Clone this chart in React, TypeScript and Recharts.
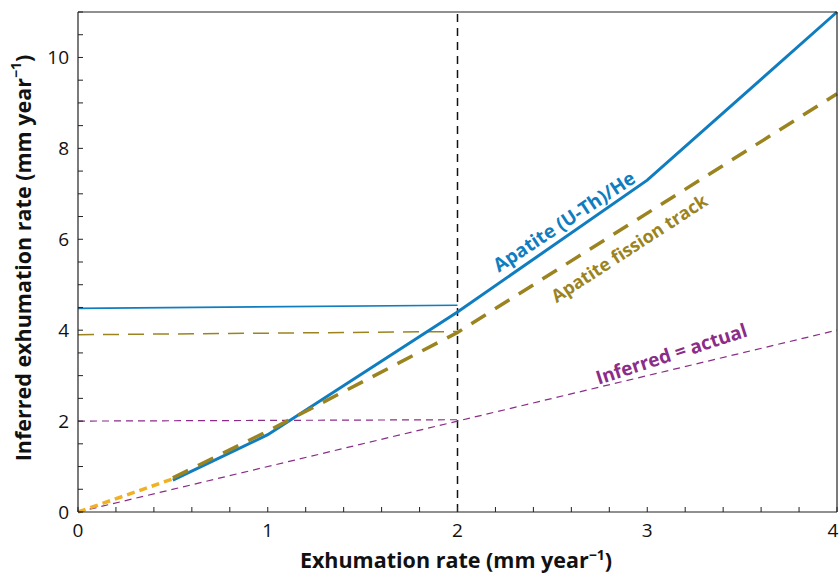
import React from 'react';
import { LineChart, Line, XAxis, YAxis, ReferenceLine, ReferenceDot } from 'recharts';

// Apatite (U-Th)/He — thick solid blue
const apheX = [0.5, 1, 2, 3, 4];
const apheY = [0.7, 1.7, 4.4, 7.3, 11];
// Apatite fission track — thick dashed olive
const aftX = [0.5, 1, 2, 4];
const aftY = [0.75, 1.78, 3.95, 9.2];
// low-rate extension (yellow dashes)
const lowX = [0, 0.5];
const lowY = [0, 0.73];
// thin horizontal guides up to x = 2
const flatX = [0, 2];
const apheFlatY = [4.48, 4.55];
const aftFlatY = [3.9, 3.97];
const actualFlatY = [2, 2.03];
// Inferred = actual
const actualX = [0, 2, 4];
const actualY = [0, 2, 4];

const xTicks = [0, 0.2, 0.4, 0.6, 0.8, 1, 1.2, 1.4, 1.6, 1.8, 2, 2.2, 2.4, 2.6, 2.8, 3, 3.2, 3.4, 3.6, 3.8, 4];
const yTicks = [0, 0.5, 1, 1.5, 2, 2.5, 3, 3.5, 4, 4.5, 5, 5.5, 6, 6.5, 7, 7.5, 8, 8.5, 9, 9.5, 10, 10.5, 11];
const xLabels = [0, 1, 2, 3, 4];
const yLabels = [0, 2, 4, 6, 8, 10];

const BLUE = '#0f7dbf';
const OLIVE = '#9b8420';
const YELLOW = '#f0b224';
const PURPLE = '#8a2c88';
const FONT = '"Open Sans", "Noto Sans", sans-serif';

const pts = (xs: number[], ys: number[]) => xs.map((x, i) => ({ x, y: ys[i] }));

const BottomTick = (p: any) => {
  const v = p.payload.value;
  const ay = p.y - 10;
  return (
    <g>
      <line x1={p.x} x2={p.x} y1={ay} y2={ay - 5} stroke="#222" strokeWidth={1} />
      {xLabels.includes(v) && (
        <text x={Math.min(p.x, 833)} y={ay + 25} textAnchor="middle" fontSize={19} fontFamily={FONT} fill="#111">
          {v}
        </text>
      )}
    </g>
  );
};

const TopTick = (p: any) => (
  <line x1={p.x} x2={p.x} y1={p.y} y2={p.y + 5} stroke="#222" strokeWidth={1} />
);

const LeftTick = (p: any) => {
  const v = p.payload.value;
  const ax = p.x + 10;
  return (
    <g>
      <line x1={ax} x2={ax + 5} y1={p.y} y2={p.y} stroke="#222" strokeWidth={1} />
      {yLabels.includes(v) && (
        <text x={ax - 9} y={p.y + 7} textAnchor="end" fontSize={19} fontFamily={FONT} fill="#111">
          {v}
        </text>
      )}
    </g>
  );
};

const RightTick = (p: any) => (
  <line x1={p.x} x2={p.x - 5} y1={p.y} y2={p.y} stroke="#222" strokeWidth={1} />
);

const tag = (text: string, color: string, angle: number, size: number) => (p: any) => (
  <text
    x={p.cx}
    y={p.cy}
    transform={`rotate(${-angle} ${p.cx} ${p.cy})`}
    textAnchor="middle"
    dominantBaseline="middle"
    fontSize={size}
    fontWeight={700}
    fontFamily={FONT}
    fill={color}
  >
    {text}
  </text>
);

export default function App() {
  return (
    <div style={{ position: 'absolute', left: 0, top: 0, background: '#fff' }}>
      <LineChart width={839} height={575} margin={{ top: 11, right: 1, bottom: 23, left: 28 }}>
        <XAxis
          dataKey="x"
          type="number"
          domain={[0, 4]}
          ticks={xTicks}
          interval={0}
          tickSize={0}
          tickMargin={10}
          tick={BottomTick}
          axisLine={{ stroke: '#222', strokeWidth: 1.2 }}
          height={40}
          allowDuplicatedCategory={false}
          label={{
            content: () => (
              <text x={456} y={568} textAnchor="middle" fontSize={21.5} fontWeight={700} fontFamily={FONT} fill="#111">
                Exhumation rate (mm year
                <tspan dy={-8} fontSize={14}>−1</tspan>
                <tspan dy={8}>)</tspan>
              </text>
            ),
          }}
        />
        <XAxis
          xAxisId="top"
          orientation="top"
          dataKey="x"
          type="number"
          domain={[0, 4]}
          ticks={xTicks}
          interval={0}
          tickSize={0}
          tickMargin={0}
          tick={TopTick}
          axisLine={{ stroke: '#222', strokeWidth: 1.2 }}
          height={1}
        />
        <YAxis
          type="number"
          domain={[0, 11]}
          ticks={yTicks}
          interval={0}
          tickSize={0}
          tickMargin={10}
          tick={LeftTick}
          axisLine={{ stroke: '#222', strokeWidth: 1.2 }}
          width={50}
          label={{
            content: () => (
              <text
                x={25}
                y={258}
                transform="rotate(-90 25 258)"
                textAnchor="middle"
                dominantBaseline="middle"
                fontSize={21.5}
                fontWeight={700}
                fontFamily={FONT}
                fill="#111"
              >
                Inferred exhumation rate (mm year
                <tspan dy={-8} fontSize={14}>−1</tspan>
                <tspan dy={8}>)</tspan>
              </text>
            ),
          }}
        />
        <YAxis
          yAxisId="right"
          orientation="right"
          type="number"
          domain={[0, 11]}
          ticks={yTicks}
          interval={0}
          tickSize={0}
          tickMargin={0}
          tick={RightTick}
          axisLine={{ stroke: '#222', strokeWidth: 1.2 }}
          width={1}
        />
        <ReferenceLine x={2} stroke="#111" strokeWidth={1.5} strokeDasharray="8 6" />
        <Line data={pts(flatX, actualFlatY)} dataKey="y" stroke={PURPLE} strokeWidth={1.2} strokeDasharray="7 5" dot={false} isAnimationActive={false} />
        <Line data={pts(actualX, actualY)} dataKey="y" stroke={PURPLE} strokeWidth={1.2} strokeDasharray="7 5" dot={false} isAnimationActive={false} />
        <Line data={pts(flatX, aftFlatY)} dataKey="y" stroke={OLIVE} strokeWidth={1.5} strokeDasharray="16 9" dot={false} isAnimationActive={false} />
        <Line data={pts(flatX, apheFlatY)} dataKey="y" stroke={BLUE} strokeWidth={1.6} dot={false} isAnimationActive={false} />
        <Line data={pts(lowX, lowY)} dataKey="y" stroke={YELLOW} strokeWidth={3.5} strokeDasharray="8 5" dot={false} isAnimationActive={false} />
        <Line data={pts(apheX, apheY)} dataKey="y" stroke={BLUE} strokeWidth={3} dot={false} isAnimationActive={false} />
        <Line data={pts(aftX, aftY)} dataKey="y" stroke={OLIVE} strokeWidth={3.5} strokeDasharray="17 11" dot={false} isAnimationActive={false} />
        <ReferenceDot x={2.567} y={6.36} r={0} shape={tag('Apatite (U-Th)/He', BLUE, 33.5, 19)} />
        <ReferenceDot x={2.91} y={5.77} r={0} shape={tag('Apatite fission track', OLIVE, 33, 18)} />
        <ReferenceDot x={3.13} y={3.44} r={0} shape={tag('Inferred = actual', PURPLE, 18, 19)} />
      </LineChart>
    </div>
  );
}
